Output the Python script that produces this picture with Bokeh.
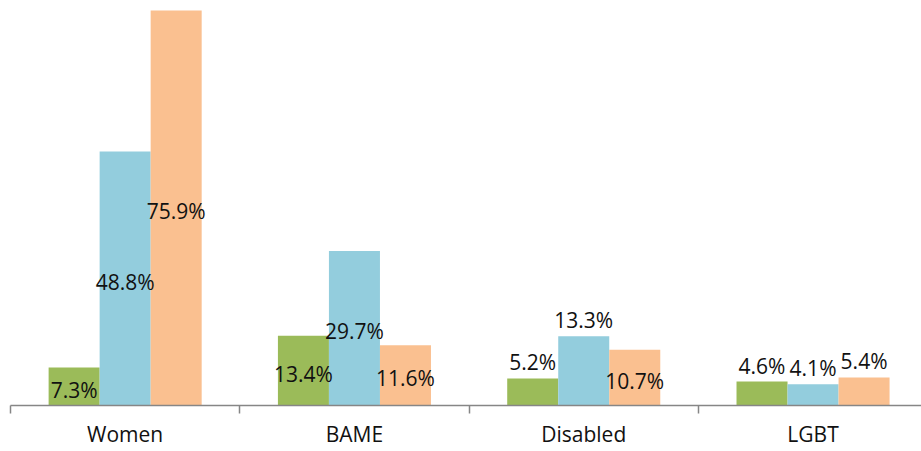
from bokeh.plotting import figure
from bokeh.models import ColumnDataSource, LinearAxis, FixedTicker, Range1d
from bokeh.core.properties import value
from bokeh.embed import file_html
from bokeh.resources import INLINE

# ---- data ----
categories = ["Women", "BAME", "Disabled", "LGBT"]
series_a = [7.3, 13.4, 5.2, 4.6]     # green
series_b = [48.8, 29.7, 13.3, 4.1]   # blue
series_c = [75.9, 11.6, 10.7, 5.4]   # orange
# label placement per bar ("c" = inside centre, "o" = outside end)
place_a = ["c", "c", "o", "o"]
place_b = ["c", "c", "o", "o"]
place_c = ["c", "c", "c", "o"]

colors = ["#9BBB59", "#93CDDD", "#FAC090"]
offsets = [-0.2225, 0.0, 0.2225]
bar_w = 0.2225
FONT = "Open Sans"

p = figure(width=921, height=451, output_backend="svg", toolbar_location=None,
           x_axis_type=None, y_axis_type=None,
           x_range=Range1d(0, 3.973), y_range=Range1d(0, 76.28),
           min_border_left=10, min_border_right=0, min_border_top=8,
           min_border_bottom=46)
p.outline_line_color = None
p.xgrid.visible = False
p.ygrid.visible = False

cx_l, cy_l, ct_l = [], [], []
ox_l, oy_l, ot_l = [], [], []
for vals, places, col, off in zip([series_a, series_b, series_c],
                                  [place_a, place_b, place_c], colors, offsets):
    xs = [i + 0.5 + off for i in range(len(categories))]
    src = ColumnDataSource(dict(x=xs, top=vals))
    p.vbar(x="x", top="top", width=bar_w, bottom=0, source=src,
           fill_color=col, line_color=None)
    for x, v, pl in zip(xs, vals, places):
        t = f"{v:.1f}%"
        if pl == "c":
            cx_l.append(x); cy_l.append(v / 2); ct_l.append(t)
        else:
            ox_l.append(x); oy_l.append(v); ot_l.append(t)

csrc = ColumnDataSource(dict(x=cx_l, y=cy_l, text=ct_l))
osrc = ColumnDataSource(dict(x=ox_l, y=oy_l, text=ot_l))
p.text(x="x", y="y", text="text", source=csrc, text_align="center",
       text_baseline="alphabetic", y_offset=3, text_font=value(FONT),
       text_font_size="21px", text_color="#111111")
p.text(x="x", y="y", text="text", source=osrc, text_align="center",
       text_baseline="alphabetic", y_offset=-16, text_font=value(FONT),
       text_font_size="21px", text_color="#111111")

ticker = FixedTicker(ticks=[i + 0.5 for i in range(len(categories))],
                     minor_ticks=list(range(len(categories) + 1)))
xaxis = LinearAxis(ticker=ticker)
xaxis.major_label_overrides = {i + 0.5: c for i, c in enumerate(categories)}
xaxis.axis_line_color = "#868686"
xaxis.axis_line_width = 1.5
xaxis.major_tick_line_color = None
xaxis.major_tick_out = 0
xaxis.major_tick_in = 0
xaxis.minor_tick_line_color = "#868686"
xaxis.minor_tick_line_width = 1.5
xaxis.minor_tick_out = 8
xaxis.minor_tick_in = 0
xaxis.major_label_standoff = 6
xaxis.major_label_text_font = FONT
xaxis.major_label_text_font_size = "21px"
xaxis.major_label_text_color = "#111111"
p.add_layout(xaxis, "below")

open("out.html", "w").write(file_html(p, INLINE))
